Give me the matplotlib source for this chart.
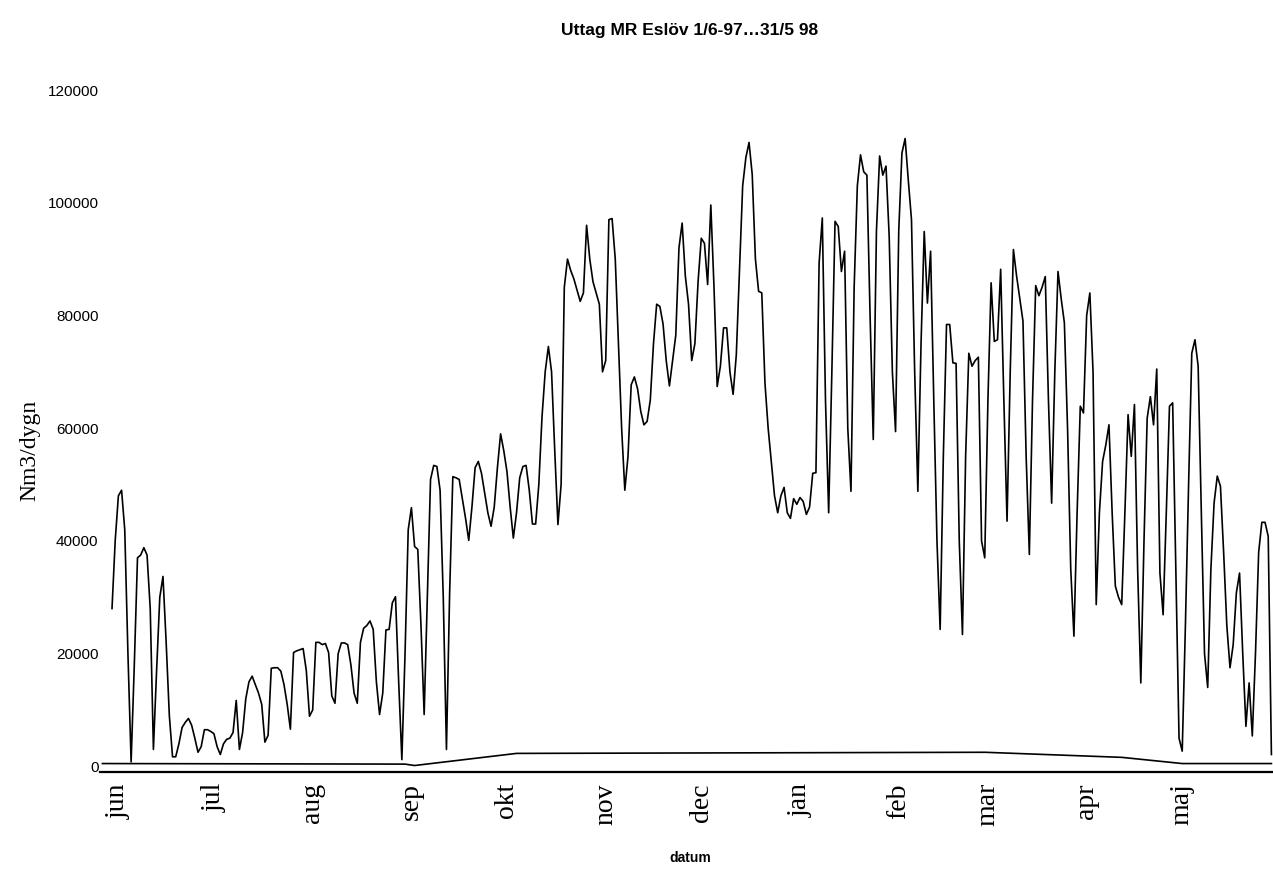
import matplotlib
matplotlib.use('Agg')
import matplotlib.pyplot as plt
import numpy as np
import pandas as pd

start_date = '1997-06-01'
end_date = '1998-05-31'

# daily withdrawal, Nm3/dygn
uttag = [
    28000, 40000, 48000, 49000, 42000, 20000, 800,
    18000, 37000, 37500, 38800, 37500, 28000, 3000,
    17000, 30000, 33700, 22000, 9000, 1700, 1700,
    4000, 6900, 7800, 8500, 7300, 5000, 2500,
    3500, 6500, 6500, 6200, 5800, 3500, 2100,
    4000, 4800, 5000, 6000, 11700, 3000, 6000,
    12000, 15000, 16000, 14500, 13000, 11000, 4300,
    5500, 17400, 17500, 17500, 16900, 14500, 11000,
    6600, 20200, 20500, 20700, 20900, 17000, 8900,
    10000, 22000, 22000, 21600, 21800, 20200, 12500,
    11200, 20000, 21900, 21900, 21600, 18000, 13000,
    11200, 22000, 24500, 25000, 25800, 24300, 15000,
    9200, 13000, 24200, 24300, 29000, 30100, 15000,
    1200, 20000, 42000, 45900, 39000, 38500, 25000,
    9200, 30000, 50900, 53400, 53200, 49000, 30000,
    3000, 30800, 51400, 51200, 50900, 47500, 44000,
    40100, 46000, 53000, 54100, 52000, 48500, 45000,
    42600, 46000, 53000, 59000, 56000, 52300, 46000,
    40500, 45000, 51200, 53200, 53400, 49000, 43000,
    43000, 50000, 62000, 70000, 74500, 70000, 56000,
    42900, 50000, 85000, 90000, 88000, 86500, 84500,
    82500, 84000, 96000, 90000, 86000, 84000, 82000,
    70000, 72000, 97000, 97200, 90000, 75000, 60000,
    49000, 55000, 67700, 69100, 67000, 63000, 60600,
    61200, 65000, 75000, 82000, 81600, 78500, 72000,
    67500, 72000, 76500, 92000, 96400, 87000, 82000,
    72000, 75000, 86000, 93700, 92800, 85500, 99600,
    85000, 67400, 71000, 77800, 77800, 70000, 66000,
    73000, 88000, 103000, 108000, 110700, 105000, 90000,
    84300, 84000, 68000, 60000, 54000, 48000, 45000,
    48000, 49500, 45000, 44000, 47500, 46500, 47700,
    47000, 44700, 46000, 52000, 52100, 89300, 97300,
    65000, 45000, 70000, 96700, 95800, 87800, 91400,
    60000, 48800, 85000, 103000, 108500, 105500, 104900,
    80000, 58000, 95000, 108300, 104900, 106500, 94000,
    70000, 59400, 95000, 108800, 111400, 104000, 97000,
    70000, 48800, 75000, 94900, 82200, 91400, 65000,
    40000, 24300, 55000, 78400, 78400, 71600, 71500,
    40000, 23400, 55000, 73300, 71000, 72000, 72600,
    40000, 37000, 65000, 85800, 75400, 75700, 88200,
    65000, 43500, 70000, 91700, 87000, 83000, 79000,
    55000, 37600, 65000, 85300, 83500, 85000, 86900,
    65000, 46700, 70000, 87800, 83000, 78700, 60000,
    35000, 23100, 45000, 63900, 62700, 80000, 84000,
    70000, 28700, 45000, 54100, 57000, 60600, 45000,
    32000, 30000, 28700, 45000, 62400, 55000, 64200,
    35000, 14800, 40000, 61800, 65600, 60600, 70500,
    34300, 26900, 45000, 63900, 64500, 35000, 5000,
    2700, 25000, 50000, 73300, 75700, 71000, 45000,
    20000, 14000, 35000, 46700, 51500, 49700, 38000,
    25000, 17500, 21600, 30800, 34300, 20000, 7100,
    14800, 5400, 20000, 38000, 43300, 43300, 40800,
    2100,
]

# second (low) series
low_dates = ['1997-05-29', '1997-09-01', '1997-09-04', '1997-10-06',
             '1998-03-02', '1998-04-14', '1998-05-03', '1998-05-31']
low_values = [500, 400, 150, 2300, 2500, 1600, 500, 500]

month_labels = ['jun', 'jul', 'aug', 'sep', 'okt', 'nov',
                'dec', 'jan', 'feb', 'mar', 'apr', 'maj']
month_starts = ['1997-06-01', '1997-07-01', '1997-08-01', '1997-09-01',
                '1997-10-01', '1997-11-01', '1997-12-01', '1998-01-01',
                '1998-02-01', '1998-03-01', '1998-04-01', '1998-05-01']
y_ticks = [0, 20000, 40000, 60000, 80000, 100000, 120000]

t0 = pd.Timestamp(start_date)
dates = pd.date_range(start_date, end_date, freq='D')
x_days = np.asarray((dates - t0).days, dtype=float)
low_x = np.asarray((pd.to_datetime(low_dates) - t0).days, dtype=float)
tick_x = np.asarray((pd.to_datetime(month_starts) - t0).days, dtype=float) + 2

W, H = 1273, 890
fig = plt.figure(figsize=(W / 100, H / 100), dpi=100)
ax = fig.add_axes([100 / W, 1 - 772 / H, 1173 / W, 687.6 / H])

ax.plot(x_days, uttag, color='black', lw=1.2)
ax.plot(low_x, low_values, color='black', lw=1.2)

ax.set_xlim(-3.77, 364.5)
ax.set_ylim(-1000, 121000)

for s in ['top', 'right', 'left']:
    ax.spines[s].set_visible(False)
ax.spines['bottom'].set_linewidth(1.6)
ax.spines['bottom'].set_color('black')

ax.set_yticks(y_ticks)
ax.set_yticklabels([str(v) for v in y_ticks], family='Liberation Sans', fontsize=11)
ax.set_xticks(tick_x)
ax.set_xticklabels(month_labels, rotation=90, family='Liberation Serif', fontsize=20)
ax.tick_params(axis='both', length=0)
ax.tick_params(axis='y', pad=1)
ax.tick_params(axis='x', pad=8)

fig.text(30 / W, 1 - 450 / H, 'Nm3/dygn', rotation=90, ha='center', va='center',
         family='Liberation Serif', fontsize=17)
fig.text(690 / W, 1 - 30 / H, 'Uttag MR Eslöv 1/6-97…31/5 98', ha='center', va='center',
         family='Liberation Sans', fontweight='bold', fontsize=12.5)
fig.text(690 / W, 1 - 858 / H, 'datum', ha='center', va='center',
         family='Liberation Sans', fontweight='bold', fontsize=10)

fig.savefig('out.png', dpi=100)
